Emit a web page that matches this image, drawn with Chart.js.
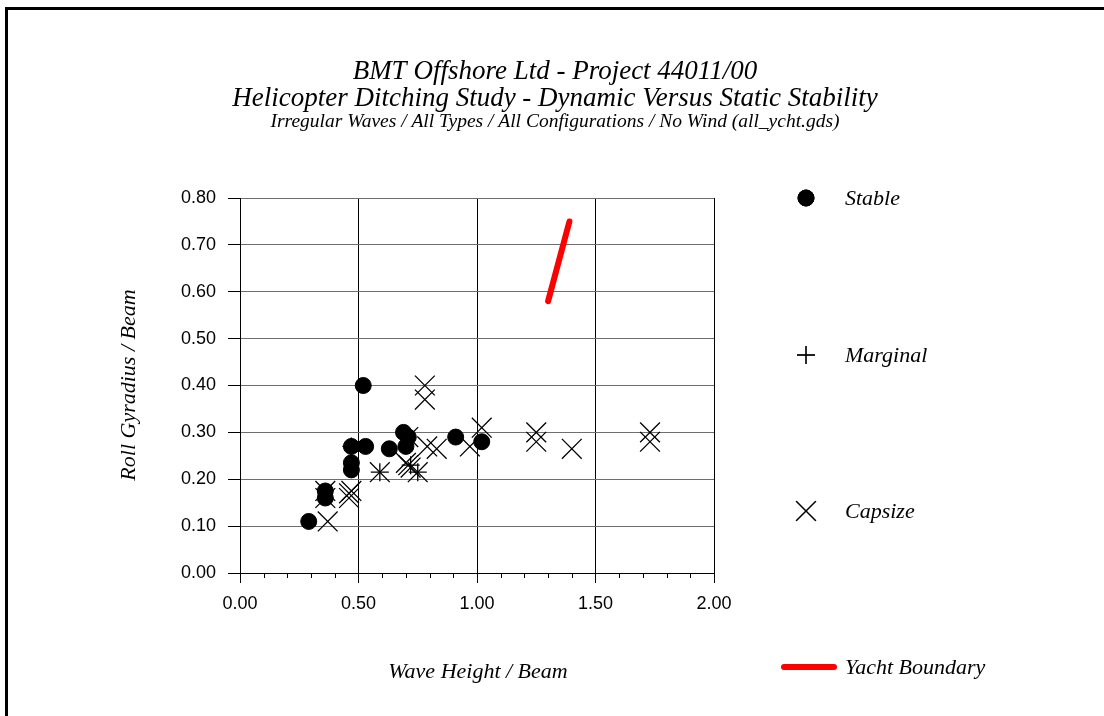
<!DOCTYPE html>
<html>
<head>
<meta charset="UTF-8">
<style>
  html, body { margin: 0; padding: 0; background: #fff; }
</style>
</head>
<body>
<canvas id="stabChart" width="1104" height="716"></canvas>
<script src="https://cdn.jsdelivr.net/npm/chart.js@4.4.0/dist/chart.umd.min.js"></script>
<script>
  const titleLines = [
    "BMT Offshore Ltd - Project 44011/00",
    "Helicopter Ditching Study - Dynamic Versus Static Stability",
    "Irregular Waves / All Types / All Configurations / No Wind (all_ycht.gds)"
  ]
  const xTitle = "Wave Height / Beam"
  const yTitle = "Roll Gyradius / Beam"

  // Stable runs
  const stableX = [0.29, 0.36, 0.36, 0.52, 0.47, 0.53, 0.47, 0.47, 0.63, 0.69, 0.71, 0.70, 0.91, 1.02]
  const stableY = [0.11, 0.175, 0.16, 0.40, 0.27, 0.27, 0.235, 0.22, 0.265, 0.30, 0.29, 0.27, 0.29, 0.28]

  // Marginal runs
  const marginalX = [0.59, 0.75, 0.72, 0.47]
  const marginalY = [0.215, 0.215, 0.23, 0.27]

  // Capsize runs
  const capsizeX = [0.37, 0.46, 0.46, 0.47, 0.36, 0.36, 0.78, 0.78, 0.79, 0.83, 0.70, 0.72, 0.71, 0.71,
    0.59, 0.75, 0.97, 1.02, 1.25, 1.25, 1.40, 1.73, 1.73]
  const capsizeY = [0.11, 0.17, 0.16, 0.175, 0.175, 0.16, 0.40, 0.37, 0.27, 0.265, 0.235, 0.225, 0.23, 0.29,
    0.215, 0.215, 0.27, 0.31, 0.30, 0.28, 0.265, 0.30, 0.28]

  // yacht boundary line
  const boundaryX = [1.30, 1.39]
  const boundaryY = [0.58, 0.75]

  const toPoints = (xs, ys) => xs.map((x, i) => ({ x: x, y: ys[i] }))
  const isMajor = (v) => Math.abs(v * 2 - Math.round(v * 2)) < 1e-6

  const serif = '"Liberation Serif", "Times New Roman", serif'
  const sans = '"Liberation Sans", Arial, sans-serif'

  const legendRows = [
    { y: 198 },
    { y: 355 },
    { y: 511 },
    { y: 667 }
  ]

  const decorations = {
    id: "decorations",
    afterDraw(chart) {
      const ctx = chart.ctx
      const area = chart.chartArea
      const xs = chart.scales.x
      ctx.save()

      // page frame
      ctx.fillStyle = "#000"
      ctx.fillRect(5, 7, 3, 720)
      ctx.fillRect(5, 7, 1110, 3)

      // short minor ticks under the x axis
      ctx.strokeStyle = "#000"
      ctx.lineWidth = 1
      xs.ticks.forEach(t => {
        if (isMajor(t.value)) return
        const px = Math.round(xs.getPixelForValue(t.value)) + 0.5
        ctx.beginPath()
        ctx.moveTo(px, area.bottom)
        ctx.lineTo(px, area.bottom + 5)
        ctx.stroke()
      })

      // titles
      ctx.fillStyle = "#000"
      ctx.textAlign = "center"
      ctx.textBaseline = "alphabetic"
      ctx.font = "italic 27px " + serif
      ctx.fillText(titleLines[0], 555, 79)
      ctx.fillText(titleLines[1], 555, 106)
      ctx.font = "italic 19.5px " + serif
      ctx.fillText(titleLines[2], 555, 127)

      // axis titles
      ctx.font = "italic 22px " + serif
      ctx.fillText(xTitle, 478, 678)
      ctx.save()
      ctx.translate(135, 385)
      ctx.rotate(-Math.PI / 2)
      ctx.fillText(yTitle, 0, 0)
      ctx.restore()

      // legend
      ctx.textAlign = "left"
      ctx.font = "italic 22px " + serif
      chart.data.datasets.forEach((ds, i) => {
        const row = legendRows[i]
        if (ds.type === "line") {
          ctx.strokeStyle = ds.borderColor
          ctx.lineWidth = ds.borderWidth
          ctx.lineCap = "round"
          ctx.beginPath()
          ctx.moveTo(784, row.y)
          ctx.lineTo(834, row.y)
          ctx.stroke()
        } else {
          Chart.helpers.drawPoint(ctx, {
            pointStyle: ds.pointStyle,
            radius: ds.pointRadius,
            borderWidth: ds.borderWidth
          }, 806, row.y)
          ctx.fillStyle = ds.backgroundColor
          ctx.strokeStyle = ds.borderColor
          ctx.lineWidth = ds.borderWidth
          if (ds.pointStyle === "circle") ctx.fill()
          ctx.stroke()
        }
        ctx.fillStyle = "#000"
        ctx.fillText(ds.label, 845, row.y + 7)
      })
      ctx.restore()
    }
  }

  const ctx = document.getElementById("stabChart").getContext("2d")

  const chart = new Chart(ctx, {
    type: "scatter",
    data: {
      datasets: [
        {
          label: "Stable",
          data: toPoints(stableX, stableY),
          pointStyle: "circle",
          pointRadius: 8,
          backgroundColor: "#000",
          borderColor: "#000",
          borderWidth: 1
        },
        {
          label: "Marginal",
          data: toPoints(marginalX, marginalY),
          pointStyle: "cross",
          pointRadius: 9,
          backgroundColor: "#000",
          borderColor: "#000",
          borderWidth: 1.3
        },
        {
          label: "Capsize",
          data: toPoints(capsizeX, capsizeY),
          pointStyle: "crossRot",
          pointRadius: 14,
          backgroundColor: "#000",
          borderColor: "#000",
          borderWidth: 1.3
        },
        {
          type: "line",
          label: "Yacht Boundary",
          data: toPoints(boundaryX, boundaryY),
          borderColor: "#ff0000",
          backgroundColor: "#ff0000",
          borderWidth: 6,
          borderCapStyle: "round",
          pointRadius: 0,
          showLine: true,
          fill: false
        }
      ]
    },
    options: {
      responsive: false,
      animation: false,
      layout: {
        padding: { left: 180, top: 198, right: 390, bottom: 103 }
      },
      plugins: {
        legend: { display: false },
        tooltip: { enabled: false }
      },
      scales: {
        x: {
          type: "linear",
          min: 0,
          max: 2,
          afterFit: (s) => { s.height = 40 },
          ticks: {
            stepSize: 0.1,
            autoSkip: false,
            maxRotation: 0,
            padding: 10,
            color: "#000",
            font: { family: sans, size: 18 },
            callback: (v) => isMajor(v) ? v.toFixed(2) : ""
          },
          grid: {
            color: (c) => (c.tick && isMajor(c.tick.value)) ? "#000" : "rgba(0,0,0,0)",
            tickColor: (c) => (c.tick && isMajor(c.tick.value)) ? "#000" : "rgba(0,0,0,0)",
            tickLength: 10,
            lineWidth: 1
          },
          border: { color: "#000", width: 1 }
        },
        y: {
          type: "linear",
          min: 0,
          max: 0.8,
          afterFit: (s) => { s.width = 60 },
          ticks: {
            stepSize: 0.1,
            padding: 12,
            color: "#000",
            font: { family: sans, size: 18 },
            callback: (v) => v.toFixed(2)
          },
          grid: {
            color: (c) => (c.tick && c.tick.value === 0) ? "#000" : "#6e6e6e",
            tickColor: "#000",
            tickLength: 12,
            lineWidth: 1
          },
          border: { color: "#000", width: 1 }
        }
      }
    },
    plugins: [decorations]
  })
</script>
</body>
</html>
